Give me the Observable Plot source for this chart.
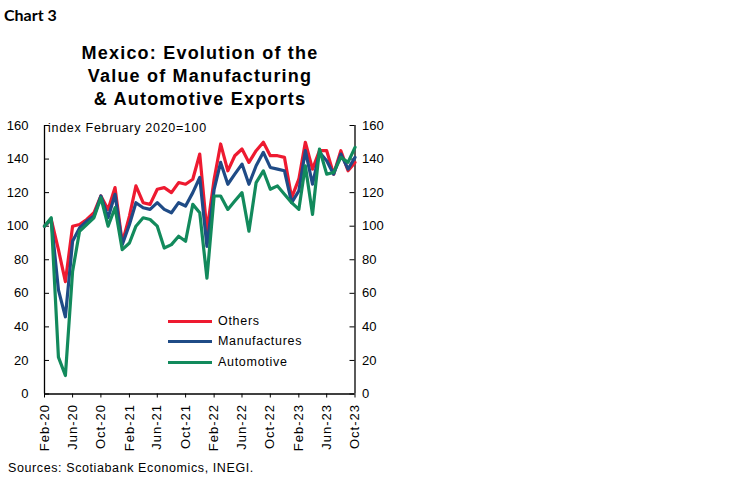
<!DOCTYPE html>
<html>
<head>
<meta charset="utf-8">
<script src="https://cdn.jsdelivr.net/npm/d3@7"></script>
<script src="https://cdn.jsdelivr.net/npm/@observablehq/plot@0.6"></script>
<style>
  body { margin: 0; background: #fff; }
  #wrap { position: relative; width: 750px; height: 483px; overflow: hidden; background: #fff;
          font-family: "Liberation Sans", Arial, sans-serif; color: #000; }
  #chart { position: absolute; left: 0; top: 0; }
  #chartno { position: absolute; left: 4px; top: 6.5px; font: bold 16px/16px Lato, "Open Sans", sans-serif; }
  #title { position: absolute; left: 0; top: 42.3px; width: 400px; text-align: center;
           font: bold 18px/23px "Liberation Sans", Arial, sans-serif; letter-spacing: 1.2px; }
  #note { position: absolute; left: 48px; top: 120.5px; font: 12.5px/14px "Liberation Sans", Arial, sans-serif; letter-spacing: 0.7px; white-space: nowrap; }
  #source { position: absolute; left: 8px; top: 461.2px; font: 12.5px/15px "Liberation Sans", Arial, sans-serif; letter-spacing: 0.6px; white-space: nowrap; }
  .lrow { position: absolute; left: 168px; height: 15px; display: flex; align-items: center;
          font: 12.5px/15px "Liberation Sans", Arial, sans-serif; letter-spacing: 0.7px; white-space: nowrap; }
  .lsw { display: inline-block; width: 44px; height: 3px; margin-right: 6px; }
  g[aria-label="x-axis tick label"] { letter-spacing: 1px; }
</style>
</head>
<body>
<div id="wrap">
  <div id="chart"></div>
  <div id="chartno">Chart 3</div>
  <div id="title">Mexico: Evolution of the<br>Value of Manufacturing<br>&amp; Automotive Exports</div>
  <div id="note">index February 2020=100</div>
  <div id="legend"></div>
  <div id="source">Sources: Scotiabank Economics, INEGI.</div>
</div>
<script>
// ---- data ----
const months = [
  "2020-02","2020-03","2020-04","2020-05","2020-06","2020-07","2020-08","2020-09","2020-10","2020-11","2020-12",
  "2021-01","2021-02","2021-03","2021-04","2021-05","2021-06","2021-07","2021-08","2021-09","2021-10","2021-11","2021-12",
  "2022-01","2022-02","2022-03","2022-04","2022-05","2022-06","2022-07","2022-08","2022-09","2022-10","2022-11","2022-12",
  "2023-01","2023-02","2023-03","2023-04","2023-05","2023-06","2023-07","2023-08","2023-09","2023-10"
];
const others = [100,104,86,67,100,101,104,108,118,110,123,
  90,106,124,114,113,122,123,120,126,125,128,143,
  97,128,149,133,142,146,138,145,150,142,142,141,
  117,128,150,134,145,145,131,145,133,138];
const manufactures = [100,104,62,46,91,99,103,106,118,105,119,
  89,101,114,111,110,114,110,108,114,112,120,129,
  88,122,138,125,131,137,125,136,144,135,134,133,
  114,121,145,125,144,139,131,143,134,141];
const automotive = [100,105,22,11,73,97,101,105,117,100,111,
  86,90,100,105,104,100,87,89,94,91,113,108,
  69,118,118,110,115,120,97,126,133,122,124,119,
  114,110,136,107,146,131,132,141,138,147];
const seriesNames = ["Others", "Manufactures", "Automotive"];
const seriesColors = ["#EE1A30", "#1F4B86", "#128A5C"];
const xTickLabels = ["Feb-20","Jun-20","Oct-20","Feb-21","Jun-21","Oct-21","Feb-22","Jun-22","Oct-22","Feb-23","Jun-23","Oct-23"];
const yTicks = [0,20,40,60,80,100,120,140,160];

// ---- build table ----
const parseMonth = d3.utcParse("%Y-%m");
const parseTick = d3.utcParse("%b-%y");
const seriesValues = [others, manufactures, automotive];
const rows = [];
seriesNames.forEach((name, s) => {
  months.forEach((m, i) => rows.push({date: parseMonth(m), value: seriesValues[s][i], series: name}));
});
const tickDates = xTickLabels.map(parseTick);
const tickLabelMap = new Map(tickDates.map((d, i) => [+d, xTickLabels[i]]));
const xStart = parseMonth(months[0]);
const xEnd = parseMonth(months[months.length - 1]);

const W = 750, H = 483;
const mL = 44, mR = 395.5, mT = 125, mB = 89.5;
const plotW = W - mL - mR;
const tickLen = 5;

const chart = Plot.plot({
  width: W, height: H,
  marginLeft: mL, marginRight: mR, marginTop: mT, marginBottom: mB,
  style: {fontFamily: '"Liberation Sans", Arial, sans-serif', fontSize: "13px", color: "#000", background: "transparent", overflow: "visible"},
  x: {type: "utc", domain: [xStart, xEnd], label: null},
  y: {domain: [0, 160], label: null},
  color: {domain: seriesNames, range: seriesColors},
  marks: [
    Plot.axisX({ticks: tickDates, tickFormat: d => tickLabelMap.get(+d), tickRotate: -90, tickSize: 4, tickPadding: 6, fontSize: 13, label: null}),
    Plot.axisY({anchor: "left", ticks: yTicks, tickSize: 0, tickPadding: 16, fontSize: 13, label: null}),
    Plot.axisY({anchor: "right", ticks: yTicks, tickSize: 0, tickPadding: 7, fontSize: 13, label: null}),
    Plot.tickY(yTicks, {y: d => d, insetRight: plotW - tickLen, stroke: "#000"}),
    Plot.tickY(yTicks, {y: d => d, insetLeft: plotW - tickLen, stroke: "#000"}),
    Plot.ruleY([0], {stroke: "#000", strokeWidth: 1.3}),
    Plot.ruleX([xStart], {stroke: "#000", strokeWidth: 1.3}),
    Plot.ruleX([xEnd], {stroke: "#000", strokeWidth: 1.3}),
    Plot.line(rows, {x: "date", y: "value", z: "series", stroke: "series", strokeWidth: 3.2, strokeLinejoin: "round"})
  ]
});
document.getElementById("chart").appendChild(chart);

// ---- legend ----
const legend = document.getElementById("legend");
const rowCenters = [321, 341.5, 362];
seriesNames.forEach((name, i) => {
  const row = document.createElement("div");
  row.className = "lrow";
  row.style.top = (rowCenters[i] - 7.5) + "px";
  const sw = document.createElement("span");
  sw.className = "lsw";
  sw.style.background = seriesColors[i];
  const lab = document.createElement("span");
  lab.textContent = name;
  row.appendChild(sw);
  row.appendChild(lab);
  legend.appendChild(row);
});
</script>
</body>
</html>
